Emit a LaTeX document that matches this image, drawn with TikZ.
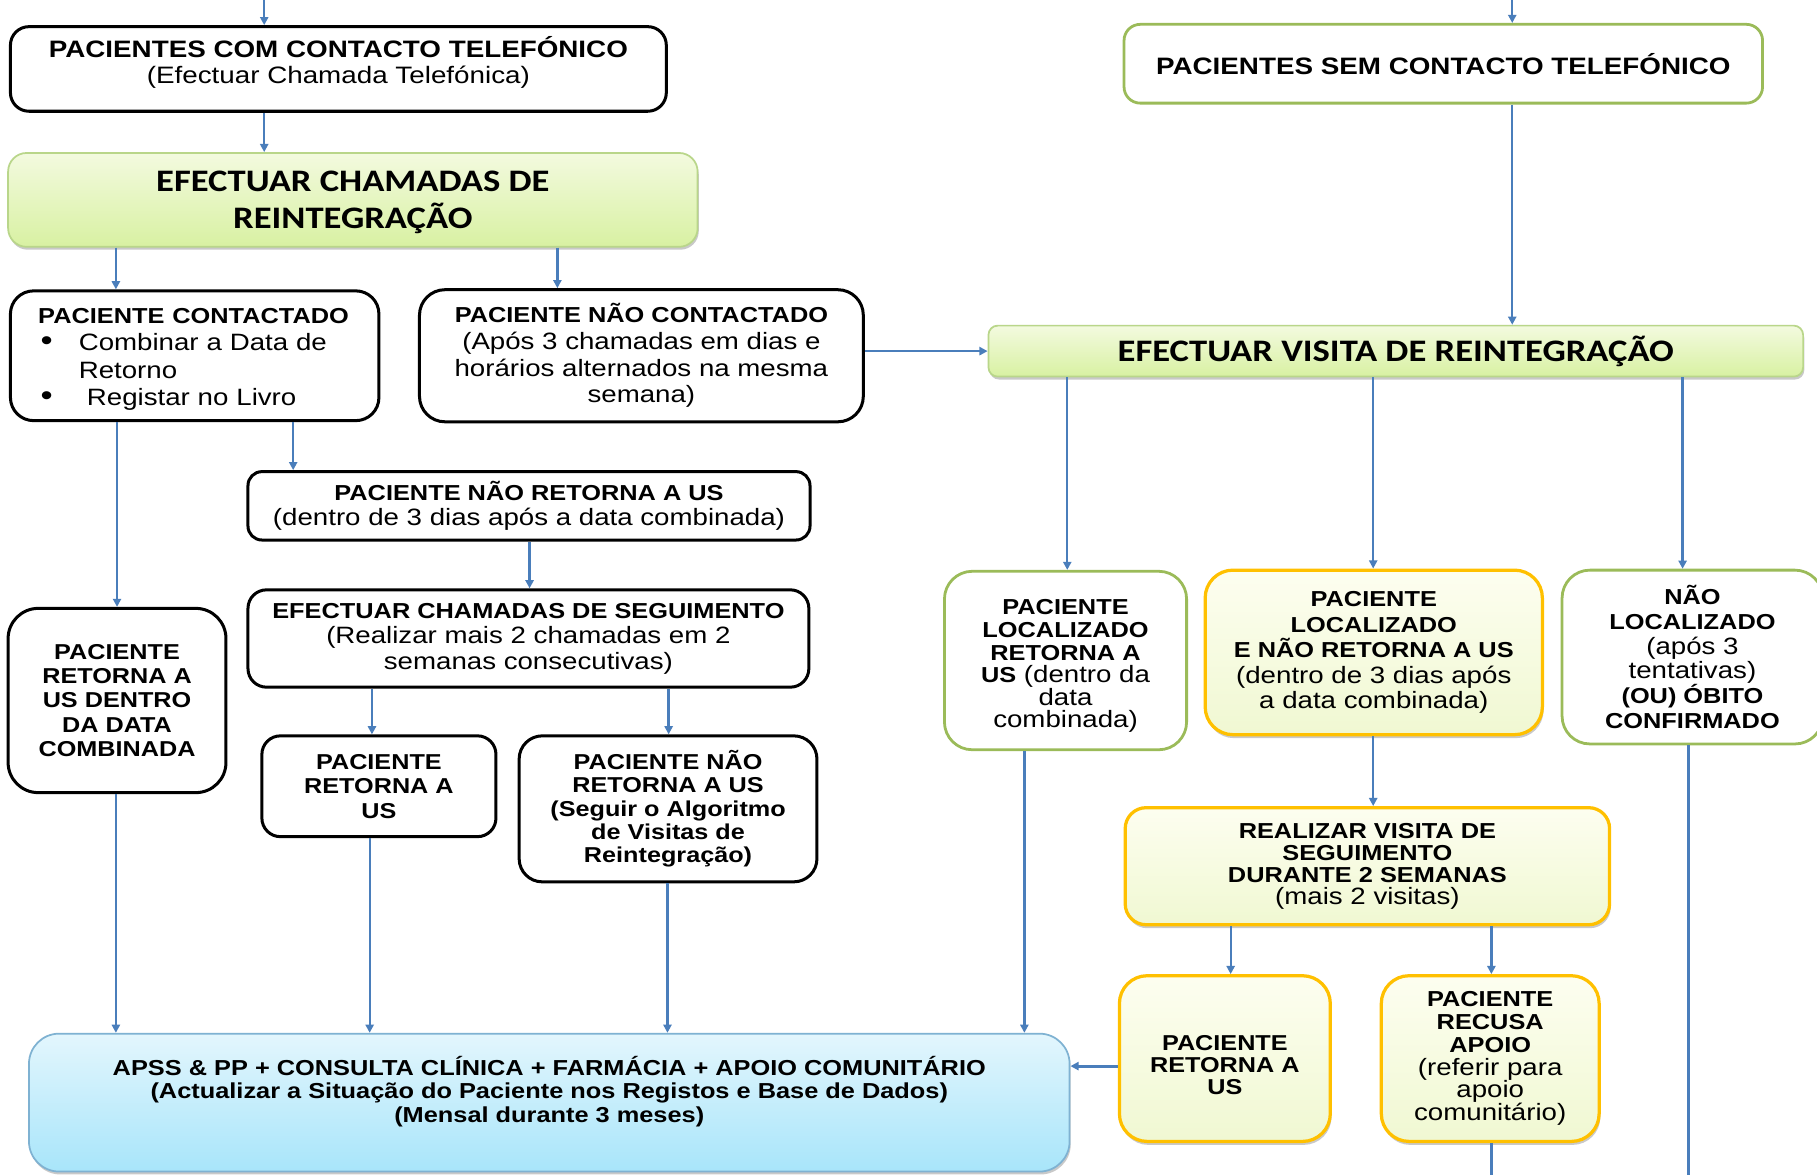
\documentclass[tikz,border=0pt]{standalone}
\usepackage{fontspec}
\setmainfont{Liberation Sans}[FakeStretch=1.17]
\newfontfamily\calib{Carlito}[FakeStretch=1.17]
\usetikzlibrary{arrows.meta,shadows}

\definecolor{arrblue}{HTML}{4A7EBB}
\definecolor{grnline}{HTML}{9BBB59}
\definecolor{grnlite}{HTML}{B9D68A}
\definecolor{grntop}{HTML}{F3FADF}
\definecolor{grnbot}{HTML}{D8F1A2}
\definecolor{yelline}{HTML}{FFC000}
\definecolor{yeltop}{HTML}{FDFEF0}
\definecolor{yelbot}{HTML}{F0F8D2}
\definecolor{blutop}{HTML}{E3F6FD}
\definecolor{blubot}{HTML}{A8E5FA}
\definecolor{bluline}{HTML}{7FB2D2}

% bold heading text, set a little smaller than the running text
\newcommand\bt[1]{{\bfseries\fontsize{18.7}{21}\selectfont #1}}
% list bullet
\newcommand\blt{\scalebox{1.25}{\textbullet}}

\tikzset{
  base/.style={rectangle, rounded corners=16pt, align=center, inner sep=2pt,
    font=\fontsize{20.4}{21}\selectfont},
  blkbox/.style={base, draw=black, line width=2.6pt, fill=white},
  gbox/.style={base, draw=grnline, line width=2.4pt, fill=white, rounded corners=24pt},
  grnbox/.style={base, draw=grnlite, line width=1.5pt, top color=grntop, bottom color=grnbot,
    drop shadow={shadow xshift=1pt, shadow yshift=-2.5pt, opacity=0.35, fill=black!60}},
  ybox/.style={base, draw=yelline, line width=2.8pt, top color=yeltop, bottom color=yelbot,
    rounded corners=24pt,
    drop shadow={shadow xshift=1pt, shadow yshift=-3pt, opacity=0.35, fill=black!60}},
  bbox/.style={base, draw=bluline, line width=1.5pt, top color=blutop, bottom color=blubot,
    rounded corners=26pt,
    drop shadow={shadow xshift=1pt, shadow yshift=-2.5pt, opacity=0.35, fill=black!60}},
  label/.style={align=center, inner sep=0pt},
  arr/.style={draw=arrblue, line width=2pt, -{Triangle[length=7pt,width=7pt]}},
  wire/.style={draw=arrblue, line width=2pt},
}

\begin{document}
\begin{tikzpicture}[x=1pt, y=-1pt]
\useasboundingbox[fill=white] (0,0) rectangle (1568,1014);

% ---- left branch: telephone contact ----
\node[blkbox, minimum width=566pt, minimum height=73pt] (b1) at (292,59.5) {};
\node[label, font=\fontsize{20.5}{23}\selectfont] (t1) at (292,54)
  {\textbf{PACIENTES COM CONTACTO TELEFÓNICO}\\(Efectuar Chamada Telefónica)};
\node[grnbox, minimum width=595pt, minimum height=81pt] (b2) at (304.5,172.5) {};
\node[label, font=\calib\bfseries\fontsize{27}{32}\selectfont] (t2) at (304.5,175)
  {EFECTUAR CHAMADAS DE\\REINTEGRAÇÃO};
\node[blkbox, rounded corners=20pt, minimum width=318pt, minimum height=112pt] (b3) at (168,307) {};
\node[label, text width=270pt, align=left, font=\fontsize{20.4}{23.6}\selectfont] (t3) at (168,310)
  {\makebox[270pt][l]{\bt{PACIENTE CONTACTADO}}\\
   \hspace*{2pt}\makebox[33pt][l]{\blt}Combinar a Data de\\
   \hspace*{35pt}Retorno\\
   \hspace*{2pt}\makebox[40pt][l]{\blt}Registar no Livro};
\node[blkbox, rounded corners=22pt, minimum width=383pt, minimum height=114pt, font=\fontsize{20.4}{23}\selectfont] (b4) at (553.5,307)
  {\bt{PACIENTE NÃO CONTACTADO}\\(Após 3 chamadas em dias e\\horários alternados na mesma\\semana)};
\node[blkbox, rounded corners=12pt, minimum width=485pt, minimum height=59pt, font=\fontsize{20.4}{22}\selectfont] (b5) at (456.5,436.5)
  {\bt{PACIENTE NÃO RETORNA A US}\\(dentro de 3 dias após a data combinada)};
\node[blkbox, rounded corners=16pt, minimum width=484pt, minimum height=84pt, font=\fontsize{20.4}{22}\selectfont] (b6) at (456,551)
  {\bt{EFECTUAR CHAMADAS DE SEGUIMENTO}\\(Realizar mais 2 chamadas em 2\\semanas consecutivas)};
\node[blkbox, rounded corners=26pt, minimum width=188pt, minimum height=159pt, font=\bfseries\fontsize{18.6}{21}\selectfont] (b7) at (101,604.5)
  {PACIENTE\\RETORNA A\\US DENTRO\\DA DATA\\COMBINADA};
\node[blkbox, rounded corners=16pt, minimum width=202pt, minimum height=87pt, font=\bfseries\fontsize{18.6}{21}\selectfont] (b8) at (327,678.5)
  {PACIENTE\\RETORNA A\\US};
\node[blkbox, rounded corners=20pt, minimum width=257pt, minimum height=126pt, font=\bfseries\fontsize{18.6}{20}\selectfont] (b9) at (576.5,698)
  {PACIENTE NÃO\\RETORNA A US\\(Seguir o Algoritmo\\de Visitas de\\Reintegração)};

% ---- common destination ----
\node[bbox, minimum width=898pt, minimum height=119pt] (apss) at (474,951.5) {};
\node[label, font=\bfseries\fontsize{18.7}{20}\selectfont] (apsstext) at (474,942)
  {APSS \& PP + CONSULTA CLÍNICA + FARMÁCIA + APOIO COMUNITÁRIO\\
   (Actualizar a Situação do Paciente nos Registos e Base de Dados)\\
   (Mensal durante 3 meses)};

% ---- right branch: no telephone contact ----
\node[gbox, rounded corners=14pt, minimum width=551pt, minimum height=68pt, font=\bfseries\fontsize{20.5}{23}\selectfont] (b11) at (1245.5,55)
  {PACIENTES SEM CONTACTO TELEFÓNICO};
\node[grnbox, rounded corners=8pt, minimum width=703pt, minimum height=44pt, font=\calib\bfseries\fontsize{27}{32}\selectfont] (b12) at (1204.5,303)
  {EFECTUAR VISITA DE REINTEGRAÇÃO};
\node[gbox, minimum width=209pt, minimum height=154pt] (b13) at (919.5,570) {};
\node[label, font=\fontsize{20.4}{19.5}\selectfont] (t13) at (919.5,575)
  {\bt{PACIENTE}\\\bt{LOCALIZADO}\\\bt{RETORNA A}\\\bt{US} (dentro da\\data\\combinada)};
\node[ybox, minimum width=291pt, minimum height=142pt, font=\fontsize{20.4}{22}\selectfont] (b14) at (1185.5,563)
  {\bt{PACIENTE}\\\bt{LOCALIZADO}\\\bt{E NÃO RETORNA A US}\\(dentro de 3 dias após\\a data combinada)};
\node[gbox, minimum width=225pt, minimum height=150pt, font=\fontsize{20.4}{21.4}\selectfont] (b15) at (1460.5,567)
  {\bt{NÃO}\\\bt{LOCALIZADO}\\(após 3\\tentativas)\\\bt{(OU) ÓBITO}\\\bt{CONFIRMADO}};
\node[ybox, rounded corners=18pt, minimum width=418pt, minimum height=101pt, font=\fontsize{20.4}{19}\selectfont] (b16) at (1180,747.5)
  {\bt{REALIZAR VISITA DE}\\\bt{SEGUIMENTO}\\\bt{DURANTE 2 SEMANAS}\\(mais 2 visitas)};
\node[ybox, minimum width=182pt, minimum height=143pt] (b17) at (1057,913.5) {};
\node[label, font=\bfseries\fontsize{18.6}{19}\selectfont] (t17) at (1057,919)
  {PACIENTE\\RETORNA A\\US};
\node[ybox, minimum width=188pt, minimum height=143pt, font=\fontsize{20.4}{19.6}\selectfont] (b18) at (1286,913.5)
  {\bt{PACIENTE}\\\bt{RECUSA}\\\bt{APOIO}\\(referir para\\apoio\\comunitário)};

% ---- free ends of the flow ----
\coordinate (inL) at (228,0);
\coordinate (inR) at (1305,0);
\coordinate (outA) at (1287,1014);
\coordinate (outB) at (1457,1014);

% ---- connectors ----
\draw[arr] (inL) -- (b1.north -| inL);
\draw[arr] (inR) -- (b11.north -| inR);
\draw[arr] (b1.south -| 228,0) -- (b2.north -| 228,0);
\draw[arr] (b2.south -| 100,0) -- (b3.north -| 100,0);
\draw[arr] (b2.south -| 481,0) -- (b4.north -| 481,0);
\draw[arr] (b4.east |- 0,303) -- (b12.west |- 0,303);
\draw[arr] (b11.south -| 1305,0) -- (b12.north -| 1305,0);
\draw[arr] (b3.south -| 253,0) -- (b5.north -| 253,0);
\draw[arr] (b3.south -| 101,0) -- (b7.north -| 101,0);
\draw[arr] (b5.south -| 457,0) -- (b6.north -| 457,0);
\draw[arr] (b6.south -| 321,0) -- (b8.north -| 321,0);
\draw[arr] (b6.south -| 577,0) -- (b9.north -| 577,0);
\draw[arr] (b7.south -| 100,0) -- (apss.north -| 100,0);
\draw[arr] (b8.south -| 319,0) -- (apss.north -| 319,0);
\draw[arr] (b9.south -| 576,0) -- (apss.north -| 576,0);
\draw[arr] (b13.south -| 884,0) -- (apss.north -| 884,0);
\draw[arr] (b12.south -| 921,0) -- (b13.north -| 921,0);
\draw[arr] (b12.south -| 1185,0) -- (b14.north -| 1185,0);
\draw[arr] (b12.south -| 1452,0) -- (b15.north -| 1452,0);
\draw[arr] (b14.south -| 1185,0) -- (b16.north -| 1185,0);
\draw[arr] (b16.south -| 1062,0) -- (b17.north -| 1062,0);
\draw[arr] (b16.south -| 1287,0) -- (b18.north -| 1287,0);
\draw[arr, line width=2.6pt] (b17.west |- 0,920) -- (apss.east |- 0,920);
\draw[wire] (b18.south -| outA) -- (outA);
\draw[wire] (b15.south -| outB) -- (outB);
\end{tikzpicture}
\end{document}
